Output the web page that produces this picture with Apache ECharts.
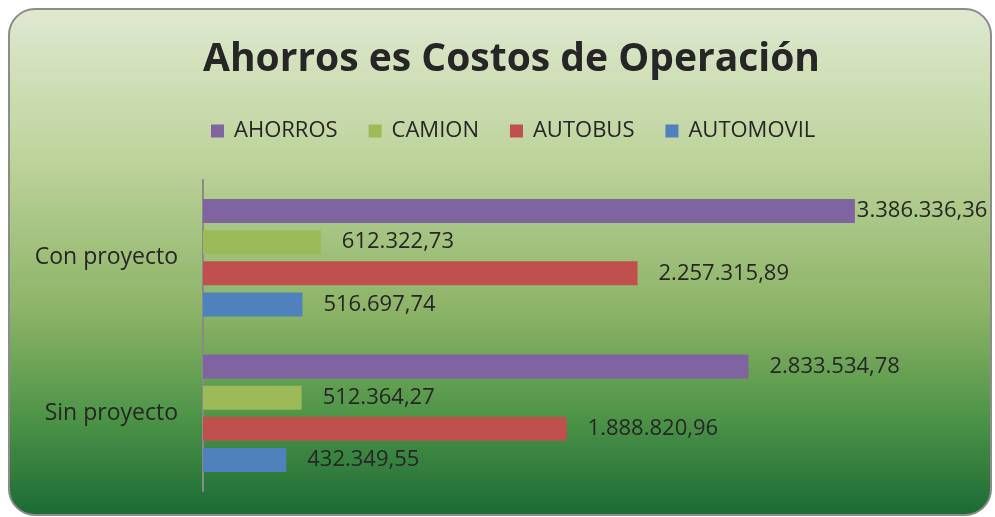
<!DOCTYPE html>
<html>
<head>
<meta charset="utf-8">
<script src="https://cdn.jsdelivr.net/npm/echarts@6/dist/echarts.min.js"></script>
<style>
    html, body { margin: 0; padding: 0; background: #fff; }
    #chart { width: 995px; height: 517px; }
</style>
</head>
<body>
<div id="chart"></div>
<script>
// datos del grafico
var categorias = ['Con proyecto', 'Sin proyecto'];
var ahorros = [3386336.36, 2833534.78];
var camion = [612322.73, 512364.27];
var autobus = [2257315.89, 1888820.96];
var automovil = [516697.74, 432349.55];

// formato 1.234.567,89
function fmt(v) {
    var p = v.toFixed(2).split('.');
    return p[0].replace(/\B(?=(\d{3})+(?!\d))/g, '.') + ',' + p[1];
}

function serie(nombre, datos, color) {
    return {
        name: nombre,
        type: 'bar',
        data: datos.map(function (v) {
            // la etiqueta que no cabe se pega a la barra
            if (v > 3000000) return { value: v, label: { distance: 2 } };
            return v;
        }),
        barWidth: 24,
        barGap: '30%',
        itemStyle: { color: color },
        label: {
            show: true,
            position: 'right',
            distance: 21,
            fontSize: 22,
            fontFamily: 'Open Sans',
            color: '#262626',
            formatter: function (p) { return fmt(p.value); }
        }
    };
}

var myChart = echarts.init(document.getElementById('chart'));

var option = {
    animation: false,
    graphic: [
        {
            type: 'rect',
            z: -10,
            shape: { x: 9, y: 9, width: 982, height: 506, r: 26 },
            style: {
                stroke: '#8c8c8c',
                lineWidth: 2,
                fill: new echarts.graphic.LinearGradient(0, 0, 0, 1, [
                    { offset: 0, color: '#dfe9d0' },
                    { offset: 0.3, color: '#bdd39a' },
                    { offset: 0.6, color: '#8bb366' },
                    { offset: 0.8, color: '#4f9548' },
                    { offset: 1, color: '#1b6a36' }
                ])
            }
        }
    ],
    title: {
        text: 'Ahorros es Costos de Operación',
        left: 198,
        top: 35,
        textStyle: {
            fontFamily: 'Open Sans',
            fontWeight: 'bold',
            fontSize: 39,
            color: '#262626'
        }
    },
    legend: {
        data: ['AHORROS', 'CAMION', 'AUTOBUS', 'AUTOMOVIL'],
        top: 115,
        left: 206,
        icon: 'rect',
        itemWidth: 13,
        itemHeight: 13,
        itemGap: 31,
        textStyle: {
            fontFamily: 'Open Sans',
            fontSize: 22,
            color: '#262626',
            padding: [0, 0, 0, 5]
        }
    },
    grid: {
        left: 203,
        top: 180,
        width: 770,
        height: 311
    },
    xAxis: {
        type: 'value',
        min: 0,
        max: 4000000,
        show: false
    },
    yAxis: {
        type: 'category',
        inverse: true,
        data: categorias,
        axisLine: { lineStyle: { color: '#8a8a8a', width: 2 } },
        axisTick: { show: false },
        axisLabel: {
            fontFamily: 'Open Sans',
            fontSize: 23,
            color: '#262626',
            margin: 25
        }
    },
    series: [
        serie('AHORROS', ahorros, '#8064a2'),
        serie('CAMION', camion, '#9bbb59'),
        serie('AUTOBUS', autobus, '#c0504d'),
        serie('AUTOMOVIL', automovil, '#4f81bd')
    ]
};

myChart.setOption(option);
</script>
</body>
</html>
